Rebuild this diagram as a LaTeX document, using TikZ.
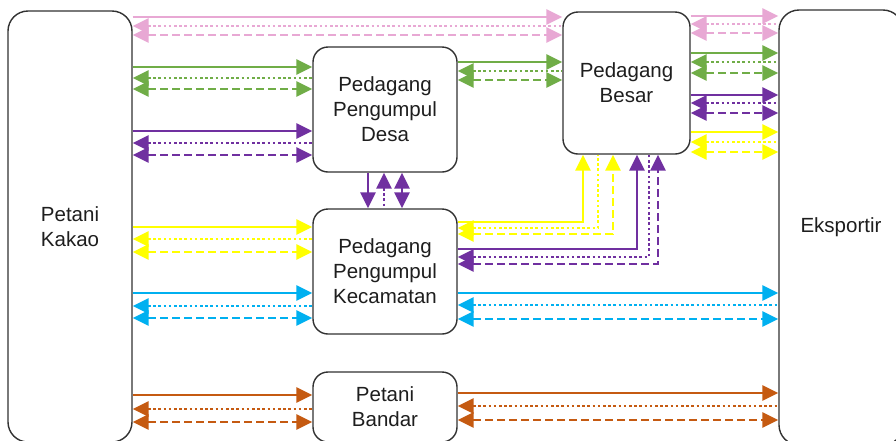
\documentclass[tikz,border=0pt]{standalone}
\usepackage{fontspec}
\setmainfont{Liberation Sans}
\usetikzlibrary{arrows.meta}
\definecolor{boxc}{RGB}{50,50,50}
\definecolor{textc}{RGB}{30,30,30}
\definecolor{cpink}{RGB}{232,168,212}
\definecolor{cgreen}{RGB}{112,173,71}
\definecolor{cpurple}{RGB}{112,48,160}
\definecolor{cyellow}{RGB}{255,255,0}
\definecolor{cblue}{RGB}{0,176,240}
\definecolor{corange}{RGB}{197,90,17}
\newcommand\boxfont{\fontsize{20.5}{25}\selectfont}
\tikzset{
  box/.style={draw=boxc, line width=1.4pt, rounded corners=15pt, fill=white,
    align=center, text=textc, font=\boxfont, inner sep=0pt},
  fw/.style={line width=2.6pt, -{Triangle[length=16pt,width=15pt]}},
  bw/.style={line width=2.6pt, dash pattern=on 2.6pt off 2.6pt, {Triangle[length=16pt,width=15pt]}-},
  bi/.style={line width=2.6pt, dash pattern=on 8pt off 4pt, {Triangle[length=16pt,width=15pt]}-{Triangle[length=16pt,width=15pt]}},
}
\begin{document}
\begin{tikzpicture}[x=1pt,y=-1pt]
\useasboundingbox (0,0) rectangle (896,440);
\clip (0,0) rectangle (896,440);
\fill[white] (0,0) rectangle (896,440);
% boxes
\node[box, rounded corners=20pt, minimum width=124pt, minimum height=431pt] (PK) at (70,226.5) {Petani\\Kakao};
\node[box, rounded corners=20pt, minimum width=124pt, minimum height=435pt] (EK) at (841,227.5) {Eksportir};
\node[box, minimum width=144pt, minimum height=125pt] (PPD) at (385,109.5) {Pedagang\\Pengumpul\\Desa};
\node[box, minimum width=127pt, minimum height=142pt] (PB) at (626.5,83) {Pedagang\\Besar};
\node[box, minimum width=144pt, minimum height=125pt] (PPK) at (385,271.5) {Pedagang\\Pengumpul\\Kecamatan};
\node[box, minimum width=144pt, minimum height=70pt] (PBD) at (385,407) {Petani\\Bandar};
% PK - PB pink
\draw[fw,cpink] (PK.east |- 0,17) -- (PB.west |- 0,17);
\draw[bw,cpink] (PK.east |- 0,26) -- (PB.west |- 0,26);
\draw[bi,cpink] (PK.east |- 0,35) -- (PB.west |- 0,35);
% PK - PPD green
\draw[fw,cgreen] (PK.east |- 0,67) -- (PPD.west |- 0,67);
\draw[bw,cgreen] (PK.east |- 0,78) -- (PPD.west |- 0,78);
\draw[bi,cgreen] (PK.east |- 0,89) -- (PPD.west |- 0,89);
% PK - PPD purple
\draw[fw,cpurple] (PK.east |- 0,131) -- (PPD.west |- 0,131);
\draw[bw,cpurple] (PK.east |- 0,143) -- (PPD.west |- 0,143);
\draw[bi,cpurple] (PK.east |- 0,155) -- (PPD.west |- 0,155);
% PK - PPK yellow
\draw[fw,cyellow] (PK.east |- 0,227) -- (PPK.west |- 0,227);
\draw[bw,cyellow] (PK.east |- 0,239) -- (PPK.west |- 0,239);
\draw[bi,cyellow] (PK.east |- 0,252) -- (PPK.west |- 0,252);
% PK - PPK blue
\draw[fw,cblue] (PK.east |- 0,293) -- (PPK.west |- 0,293);
\draw[bw,cblue] (PK.east |- 0,306) -- (PPK.west |- 0,306);
\draw[bi,cblue] (PK.east |- 0,318) -- (PPK.west |- 0,318);
% PK - PBD orange
\draw[fw,corange] (PK.east |- 0,395) -- (PBD.west |- 0,395);
\draw[bw,corange] (PK.east |- 0,409) -- (PBD.west |- 0,409);
\draw[bi,corange] (PK.east |- 0,422) -- (PBD.west |- 0,422);
% PPD - PB green
\draw[fw,cgreen] (PPD.east |- 0,62) -- (PB.west |- 0,62);
\draw[bw,cgreen] (PPD.east |- 0,71) -- (PB.west |- 0,71);
\draw[bi,cgreen] (PPD.east |- 0,80) -- (PB.west |- 0,80);
% PPD - PPK purple vertical
\draw[fw,cpurple] (PPD.south -| 368,0) -- (PPK.north -| 368,0);
\draw[bw,cpurple] (PPD.south -| 384,0) -- (PPK.north -| 384,0);
\draw[bi,cpurple] (PPD.south -| 402,0) -- (PPK.north -| 402,0);
% PPK - PB yellow (elbow)
\draw[fw,cyellow] (PPK.east |- 0,222) -| (PB.south -| 583,0);
\draw[bw,cyellow] (PPK.east |- 0,228) -| (PB.south -| 598,0);
\draw[bi,cyellow] (PPK.east |- 0,234) -| (PB.south -| 613,0);
% PPK - PB purple (elbow)
\draw[fw,cpurple] (PPK.east |- 0,249) -| (PB.south -| 637,0);
\draw[bw,cpurple] (PPK.east |- 0,257) -| (PB.south -| 649,0);
\draw[bi,cpurple] (PPK.east |- 0,264) -| (PB.south -| 658,0);
% PB - EK
\draw[fw,cpink] (PB.east |- 0,16) -- (EK.west |- 0,16);
\draw[bw,cpink] (PB.east |- 0,24) -- (EK.west |- 0,24);
\draw[bi,cpink] (PB.east |- 0,33) -- (EK.west |- 0,33);
\draw[fw,cgreen] (PB.east |- 0,53) -- (EK.west |- 0,53);
\draw[bw,cgreen] (PB.east |- 0,62) -- (EK.west |- 0,62);
\draw[bi,cgreen] (PB.east |- 0,73) -- (EK.west |- 0,73);
\draw[fw,cpurple] (PB.east |- 0,95) -- (EK.west |- 0,95);
\draw[bw,cpurple] (PB.east |- 0,103) -- (EK.west |- 0,103);
\draw[bi,cpurple] (PB.east |- 0,113) -- (EK.west |- 0,113);
\draw[fw,cyellow] (PB.east |- 0,132) -- (EK.west |- 0,132);
\draw[bw,cyellow] (PB.east |- 0,142) -- (EK.west |- 0,142);
\draw[bi,cyellow] (PB.east |- 0,152) -- (EK.west |- 0,152);
% PPK - EK blue
\draw[fw,cblue] (PPK.east |- 0,293) -- (EK.west |- 0,293);
\draw[bw,cblue] (PPK.east |- 0,305) -- (EK.west |- 0,305);
\draw[bi,cblue] (PPK.east |- 0,319) -- (EK.west |- 0,319);
% PBD - EK orange
\draw[fw,corange] (PBD.east |- 0,393) -- (EK.west |- 0,393);
\draw[bw,corange] (PBD.east |- 0,406) -- (EK.west |- 0,406);
\draw[bi,corange] (PBD.east |- 0,420) -- (EK.west |- 0,420);
\end{tikzpicture}
\end{document}
